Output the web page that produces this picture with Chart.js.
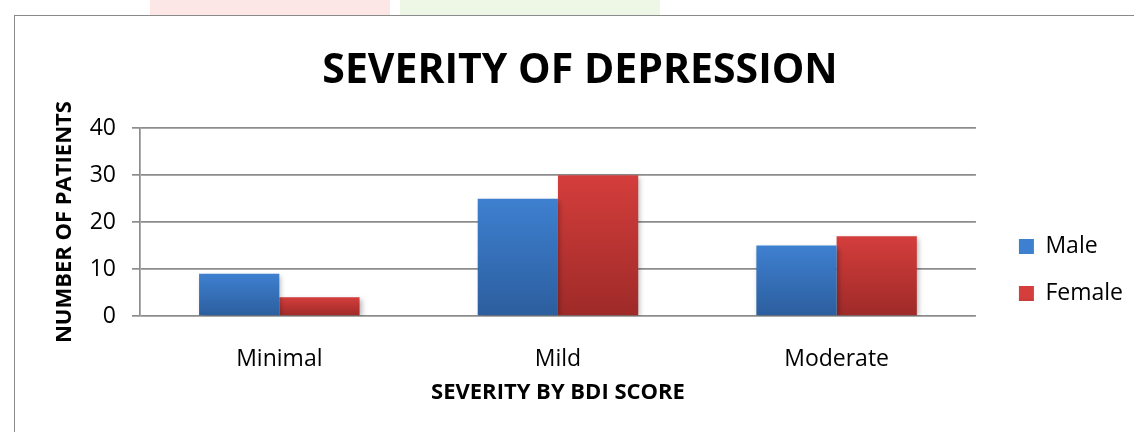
<!DOCTYPE html>
<html>
<head>
<meta charset="utf-8">
<script src="https://cdn.jsdelivr.net/npm/chart.js@4/dist/chart.umd.min.js"></script>
<style>
  html, body { margin: 0; padding: 0; background: #fff; overflow: hidden; }
  body { width: 1134px; height: 432px; position: relative; }
  .wm1 { position: absolute; left: 150px; top: 0; width: 240px; height: 15px; background: #fde6e6; }
  .wm2 { position: absolute; left: 400px; top: 0; width: 260px; height: 15px; background: #eef6e6; }
  #frame { position: absolute; left: 14px; top: 15px; border-left: 1px solid #8a8a8a; border-top: 1px solid #8a8a8a; background: #fff; }
  canvas { display: block; }
</style>
</head>
<body>
<div class="wm1"></div>
<div class="wm2"></div>
<div id="frame"><canvas id="depressionChart" width="1130" height="420"></canvas></div>
<script>
const categories = ['Minimal', 'Mild', 'Moderate'];
const maleValues = [9, 25, 15];
const femaleValues = [4, 30, 17];
const yTicks = [0, 10, 20, 30, 40];

Chart.defaults.font.family = "'Open Sans', sans-serif";
Chart.defaults.color = '#000';

function barGradient(top, bottom) {
    return function(context) {
        const chart = context.chart;
        const y = chart.scales.y;
        if (!chart.chartArea || !y || typeof context.raw !== 'number') return top;
        const yTop = y.getPixelForValue(context.raw);
        const yBase = y.getPixelForValue(0);
        if (!isFinite(yTop) || !isFinite(yBase)) return top;
        const g = chart.ctx.createLinearGradient(0, yTop, 0, yBase);
        g.addColorStop(0, top);
        g.addColorStop(1, bottom);
        return g;
    };
}

const shadowPlugin = {
    id: 'barShadow',
    beforeDatasetsDraw(chart) {
        const ctx = chart.ctx;
        ctx.save();
        ctx.shadowColor = 'rgba(0,0,0,0.28)';
        ctx.shadowBlur = 5;
        ctx.shadowOffsetX = 2;
        ctx.shadowOffsetY = 2;
    },
    afterDatasetsDraw(chart) {
        chart.ctx.restore();
    }
};

// nudge the legend away from the plot, like the original
const legendShift = {
    id: 'legendShift',
    afterLayout(chart) {
        const lg = chart.legend;
        if (!lg) return;
        lg.left += 19; lg.right += 19;
        lg.top -= 77; lg.bottom -= 77;
    }
};

const ctx = document.getElementById('depressionChart').getContext('2d');
new Chart(ctx, {
    type: 'bar',
    data: {
        labels: categories,
        datasets: [{
            label: 'Male',
            data: maleValues,
            backgroundColor: barGradient('rgb(62,128,208)', 'rgb(44,94,158)'),
            categoryPercentage: 0.576,
            barPercentage: 1
        }, {
            label: 'Female',
            data: femaleValues,
            backgroundColor: barGradient('rgb(212,62,60)', 'rgb(158,42,40)'),
            categoryPercentage: 0.576,
            barPercentage: 1
        }]
    },
    options: {
        responsive: false,
        animation: false,
        layout: { padding: { left: 31, right: 31, top: 0, bottom: 30 } },
        plugins: {
            title: {
                display: true,
                text: 'SEVERITY OF DEPRESSION',
                font: { size: 41, weight: 'bold' },
                padding: { top: 31, bottom: 32 }
            },
            legend: {
                position: 'right',
                align: 'end',
                labels: {
                    boxWidth: 15,
                    boxHeight: 15,
                    padding: 24,
                    font: { size: 23 }
                }
            },
            tooltip: { enabled: false }
        },
        scales: {
            x: {
                afterFit(axis) { axis.height = 90; },
                grid: { display: false, drawTicks: false },
                border: { display: false },
                ticks: { font: { size: 23 }, padding: 30 },
                title: {
                    display: true,
                    text: 'SEVERITY BY BDI SCORE',
                    font: { size: 22, weight: 'bold' },
                    padding: { top: 0, bottom: 0 }
                }
            },
            y: {
                min: 0,
                max: 40,
                afterBuildTicks(axis) { axis.ticks = yTicks.map(v => ({ value: v })); },
                afterFit(axis) { axis.width = 94; },
                grid: { color: '#8c8c8c', lineWidth: 1.7, tickLength: 8 },
                border: { display: true, color: '#8c8c8c', width: 1.7 },
                ticks: { font: { size: 23 }, padding: 16 },
                title: {
                    display: true,
                    text: 'NUMBER OF PATIENTS',
                    font: { size: 22, weight: 'bold' },
                    padding: { top: 6, bottom: 0 }
                }
            }
        }
    },
    plugins: [shadowPlugin, legendShift]
});
</script>
</body>
</html>
